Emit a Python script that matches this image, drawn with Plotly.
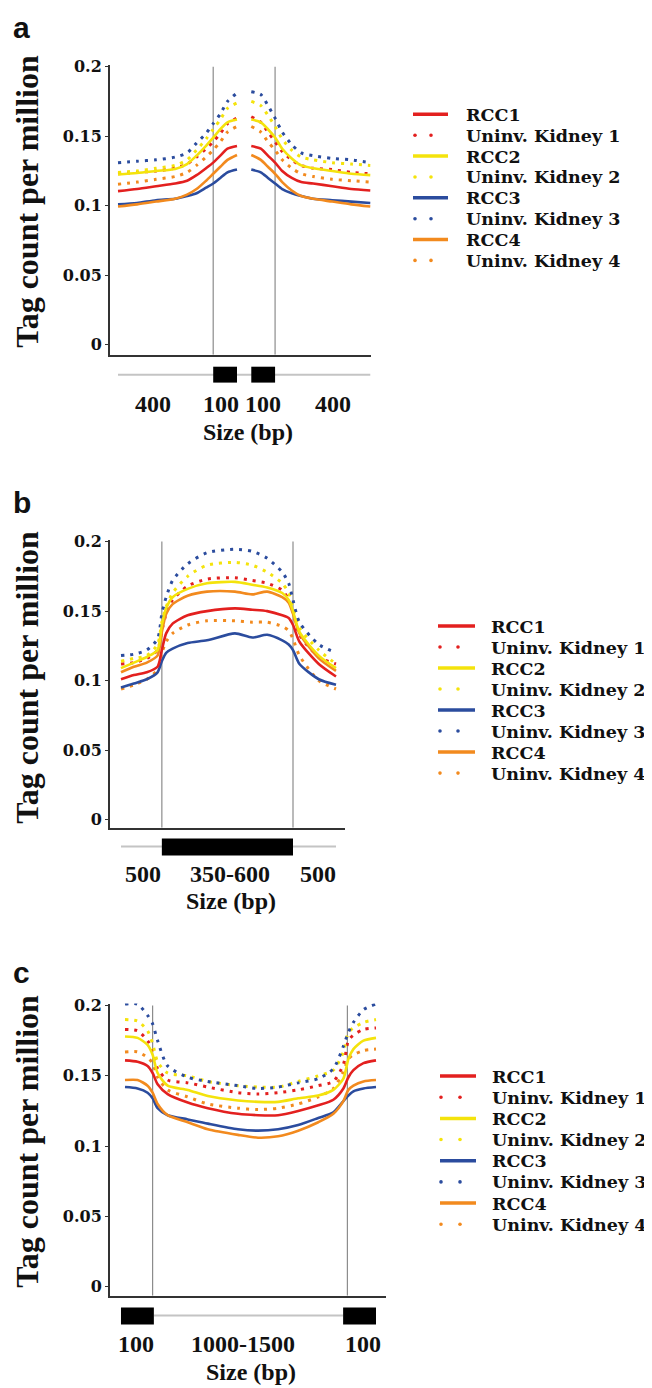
import plotly.graph_objects as go

W, H = 652, 1388

# ---------------- data ----------------
SERIES_NAMES = ["RCC1", "Uninv. Kidney 1", "RCC2", "Uninv. Kidney 2",
                "RCC3", "Uninv. Kidney 3", "RCC4", "Uninv. Kidney 4"]
Y_TICK_VALS = [0, 0.05, 0.1, 0.15, 0.2]
Y_TICK_TEXT = ["0", "0.05", "0.1", "0.15", "0.2"]

# Panel a: two flanked 100 bp regions (left half / right half, bp coordinates)
A_X_LEFT = [0, 80, 160, 240, 290, 330, 370, 400, 430, 460, 500]
A_X_RIGHT = [560, 600, 630, 660, 690, 730, 770, 820, 900, 980, 1060]
A_RCC1 = [0.1105, 0.112, 0.114, 0.116, 0.118, 0.122, 0.127, 0.131, 0.136, 0.141, 0.143,
          0.143, 0.141, 0.136, 0.131, 0.125, 0.120, 0.117, 0.116, 0.114, 0.112, 0.111]
A_K1 = [0.123, 0.124, 0.125, 0.127, 0.130, 0.135, 0.141, 0.146, 0.152, 0.159, 0.163,
        0.164, 0.160, 0.153, 0.146, 0.139, 0.133, 0.129, 0.127, 0.126, 0.124, 0.123]
A_RCC2 = [0.1225, 0.1235, 0.125, 0.1265, 0.130, 0.136, 0.143, 0.149, 0.155, 0.160, 0.162,
          0.162, 0.160, 0.155, 0.149, 0.141, 0.134, 0.129, 0.127, 0.125, 0.123, 0.122]
A_K2 = [0.124, 0.125, 0.127, 0.129, 0.133, 0.140, 0.148, 0.155, 0.162, 0.170, 0.174,
        0.175, 0.172, 0.165, 0.157, 0.148, 0.140, 0.135, 0.133, 0.131, 0.130, 0.129]
A_RCC3 = [0.101, 0.102, 0.104, 0.105, 0.107, 0.109, 0.113, 0.116, 0.120, 0.124, 0.126,
          0.126, 0.124, 0.120, 0.116, 0.112, 0.109, 0.107, 0.105, 0.104, 0.103, 0.102]
A_K3 = [0.131, 0.132, 0.133, 0.135, 0.138, 0.145, 0.152, 0.159, 0.166, 0.175, 0.181,
        0.182, 0.180, 0.172, 0.163, 0.153, 0.144, 0.138, 0.136, 0.134, 0.133, 0.131]
A_RCC4 = [0.0995, 0.101, 0.103, 0.105, 0.108, 0.112, 0.118, 0.123, 0.128, 0.133, 0.1365,
          0.1365, 0.133, 0.128, 0.123, 0.117, 0.111, 0.107, 0.105, 0.103, 0.101, 0.0995]
A_K4 = [0.1155, 0.117, 0.119, 0.121, 0.124, 0.129, 0.135, 0.140, 0.146, 0.153, 0.157,
        0.157, 0.153, 0.146, 0.140, 0.133, 0.127, 0.123, 0.121, 0.119, 0.118, 0.117]
A_BOUNDS = [400, 660]
A_BOXES = [(400, 500), (560, 660)]
A_LINE = (0, 1060)
A_LABEL_POS = [147, 433, 609, 903]
A_LABEL_TEXT = ["400", "100", "100", "400"]

# Panel b: 500 bp flanks around a 350-600 bp region (relative bins 0-100)
B_X = [0, 6, 12, 17, 19, 21, 24, 31, 40, 53, 61, 68, 75, 78, 80, 83, 92, 100]
B_RCC1 = [0.101, 0.104, 0.106, 0.110, 0.122, 0.134, 0.141, 0.147, 0.150, 0.152, 0.151,
          0.150, 0.147, 0.145, 0.140, 0.128, 0.112, 0.103]
B_K1 = [0.112, 0.113, 0.116, 0.122, 0.136, 0.148, 0.158, 0.168, 0.173, 0.174, 0.172,
        0.170, 0.165, 0.158, 0.150, 0.133, 0.117, 0.112]
B_RCC2 = [0.109, 0.113, 0.117, 0.122, 0.140, 0.152, 0.160, 0.166, 0.170, 0.171, 0.169,
          0.167, 0.163, 0.158, 0.150, 0.135, 0.118, 0.109]
B_K2 = [0.114, 0.116, 0.118, 0.126, 0.142, 0.153, 0.163, 0.175, 0.183, 0.185, 0.183,
        0.178, 0.170, 0.163, 0.152, 0.138, 0.122, 0.112]
B_RCC3 = [0.095, 0.098, 0.101, 0.106, 0.114, 0.120, 0.123, 0.127, 0.129, 0.134, 0.131,
          0.133, 0.129, 0.126, 0.122, 0.112, 0.101, 0.097]
B_K3 = [0.118, 0.119, 0.122, 0.130, 0.148, 0.160, 0.172, 0.184, 0.192, 0.1945, 0.193,
        0.188, 0.178, 0.170, 0.158, 0.142, 0.126, 0.120]
B_RCC4 = [0.106, 0.110, 0.113, 0.118, 0.135, 0.148, 0.155, 0.161, 0.164, 0.164, 0.162,
          0.164, 0.160, 0.156, 0.148, 0.134, 0.116, 0.107]
B_K4 = [0.094, 0.097, 0.101, 0.108, 0.120, 0.128, 0.134, 0.140, 0.143, 0.143, 0.142,
        0.142, 0.139, 0.136, 0.130, 0.118, 0.100, 0.094]
B_BOUNDS = [19, 80]
B_BOXES = [(19, 80)]
B_LINE = (0, 100)
B_LABEL_POS = [10.2, 50.9, 91.6]
B_LABEL_TEXT = ["500", "350-600", "500"]

# Panel c: 100 bp regions around a 1000-1500 bp region (relative bins 0-100)
C_X = [0, 5, 9, 11, 13, 17, 25, 33, 45, 53, 61, 69, 77, 83, 87, 89, 91, 95, 100]
C_RCC1 = [0.161, 0.160, 0.157, 0.152, 0.144, 0.137, 0.131, 0.127, 0.123, 0.122, 0.122,
          0.125, 0.129, 0.133, 0.141, 0.149, 0.154, 0.159, 0.161]
C_K1 = [0.183, 0.182, 0.175, 0.168, 0.155, 0.147, 0.145, 0.142, 0.138, 0.137, 0.138,
        0.140, 0.143, 0.146, 0.158, 0.175, 0.179, 0.183, 0.184]
C_RCC2 = [0.178, 0.177, 0.172, 0.165, 0.152, 0.143, 0.140, 0.1356, 0.1325, 0.1315, 0.1315,
          0.134, 0.136, 0.140, 0.148, 0.162, 0.169, 0.175, 0.177]
C_K2 = [0.190, 0.189, 0.182, 0.173, 0.160, 0.152, 0.150, 0.146, 0.143, 0.142, 0.142,
        0.146, 0.150, 0.154, 0.167, 0.181, 0.184, 0.188, 0.190]
C_RCC3 = [0.142, 0.141, 0.138, 0.134, 0.127, 0.122, 0.119, 0.116, 0.112, 0.111, 0.112,
          0.115, 0.120, 0.124, 0.132, 0.136, 0.139, 0.141, 0.142]
C_K3 = [0.201, 0.201, 0.193, 0.187, 0.175, 0.157, 0.149, 0.146, 0.143, 0.141, 0.142,
        0.145, 0.148, 0.155, 0.171, 0.181, 0.188, 0.197, 0.201]
C_RCC4 = [0.147, 0.147, 0.143, 0.138, 0.130, 0.122, 0.117, 0.112, 0.108, 0.106, 0.107,
          0.111, 0.117, 0.123, 0.132, 0.140, 0.143, 0.146, 0.147]
C_K4 = [0.167, 0.167, 0.163, 0.159, 0.149, 0.140, 0.135, 0.130, 0.127, 0.126, 0.127,
        0.130, 0.135, 0.141, 0.153, 0.162, 0.165, 0.168, 0.169]
C_BOUNDS = [11, 88.6]
C_BOXES = [(-1.6, 11.5), (86.9, 100)]
C_LINE = (11.5, 86.9)
C_LABEL_POS = [4.4, 47, 94.8]
C_LABEL_TEXT = ["100", "1000-1500", "100"]

# ---------------- styles ----------------
COLORS = ["#e3201f", "#e3201f", "#f4e30c", "#f4e30c",
          "#2b4c9e", "#2b4c9e", "#f28a1e", "#f28a1e"]
DOTTED = [False, True, False, True, False, True, False, True]
DRAW_ORDER = [1, 3, 5, 7, 4, 6, 0, 2]
SERIF = "Liberation Serif, Times New Roman, serif"
WIDE_SERIF = "DejaVu Serif, serif"
TICKFONT = dict(family=WIDE_SERIF, size=16, color="#111", weight="bold")
AXCOL = "#333333"


def py(p):
    return 1 - p / H


def pxf(p):
    return p / W


panels = [
    dict(key="", label="a", x0=110, k=0.238, xl=102, xr=363, zero=332, s=1400, bot=342, top=50,
         series=[A_RCC1, A_K1, A_RCC2, A_K2, A_RCC3, A_K3, A_RCC4, A_K4], split=True,
         bounds=A_BOUNDS, boxes=A_BOXES, line=A_LINE, bar_y=362, box_h=(354, 370),
         lab_pos=A_LABEL_POS, lab_text=A_LABEL_TEXT, lab_y=392, size_y=420, size_x=546,
         title_y=188, letter_y=13, leg_line=(405, 440), leg_dots=(407, 423), leg_text=456,
         leg_y0=100, leg_dy=21.0),
    dict(key="2", label="b", x0=113, k=2.15, xl=102, xr=337, zero=810, s=1400, bot=818, top=528,
         series=[B_RCC1, B_K1, B_RCC2, B_K2, B_RCC3, B_K3, B_RCC4, B_K4], split=False, xs=B_X,
         bounds=B_BOUNDS, boxes=B_BOXES, line=B_LINE, bar_y=837, box_h=(829, 846),
         lab_pos=B_LABEL_POS, lab_text=B_LABEL_TEXT, lab_y=865, size_y=892, size_x=51,
         title_y=667, letter_y=491, leg_line=(430, 467), leg_dots=(432, 450), leg_text=481,
         leg_y0=615, leg_dy=21.15),
    dict(key="3", label="c", x0=117, k=2.51, xl=102, xr=378, zero=1280, s=1415, bot=1289, top=995,
         series=[C_RCC1, C_K1, C_RCC2, C_K2, C_RCC3, C_K3, C_RCC4, C_K4], split=False, xs=C_X,
         bounds=C_BOUNDS, boxes=C_BOXES, line=C_LINE, bar_y=1309, box_h=(1301, 1318),
         lab_pos=C_LABEL_POS, lab_text=C_LABEL_TEXT, lab_y=1338, size_y=1366, size_x=50,
         title_y=1134, letter_y=964, leg_line=(432, 468), leg_dots=(433, 452), leg_text=482,
         leg_y0=1068, leg_dy=21.3),
]

fig = go.Figure()
shapes = []
annotations = []

for p in panels:
    xa = "x" + p["key"]
    ya = "y" + p["key"]
    xrange = [(p["xl"] - p["x0"]) / p["k"], (p["xr"] - p["x0"]) / p["k"]]
    yrange = [(p["zero"] - p["bot"]) / p["s"], (p["zero"] - p["top"]) / p["s"]]

    for i in DRAW_ORDER:
        vals = p["series"][i]
        if p["split"]:
            n = len(A_X_LEFT)
            xs = A_X_LEFT + [None] + A_X_RIGHT
            ys = vals[:n] + [None] + vals[n:]
        else:
            xs = p["xs"]
            ys = vals
        if DOTTED[i]:
            line = dict(color=COLORS[i], width=3, dash="3px,6px", shape="spline", smoothing=0.7)
        else:
            line = dict(color=COLORS[i], width=2.6, shape="spline", smoothing=0.7)
        fig.add_trace(go.Scatter(x=xs, y=ys, mode="lines", name=SERIES_NAMES[i], line=line,
                                 xaxis=xa, yaxis=ya, showlegend=False, connectgaps=False,
                                 hoverinfo="skip"))

    ax_x = dict(domain=[pxf(p["xl"]), pxf(p["xr"])], range=xrange, anchor=ya,
                showgrid=False, zeroline=False, showticklabels=False, ticks="",
                showline=True, linecolor=AXCOL, linewidth=2, fixedrange=True)
    ax_y = dict(domain=[py(p["bot"]), py(p["top"])], range=yrange, anchor=xa,
                showgrid=False, zeroline=False, tickvals=Y_TICK_VALS, ticktext=Y_TICK_TEXT,
                ticks="outside", ticklen=3, tickwidth=1, tickcolor=AXCOL, tickfont=TICKFONT,
                showline=True, linecolor=AXCOL, linewidth=2, fixedrange=True)
    fig.update_layout(**{"xaxis" + p["key"]: ax_x, "yaxis" + p["key"]: ax_y})

    # boundary lines
    for b in p["bounds"]:
        shapes.append(dict(type="line", xref=xa, yref=ya, x0=b, x1=b, y0=yrange[0], y1=0.2,
                           line=dict(color="#8c8c8c", width=1.2), layer="below"))
    # gene structure schematic
    shapes.append(dict(type="line", xref=xa, yref="paper", x0=p["line"][0], x1=p["line"][1],
                       y0=py(p["bar_y"]), y1=py(p["bar_y"]), line=dict(color="#c4c4c4", width=2)))
    for b0, b1 in p["boxes"]:
        shapes.append(dict(type="rect", xref=xa, yref="paper", x0=b0, x1=b1,
                           y0=py(p["box_h"][1]), y1=py(p["box_h"][0]),
                           fillcolor="#000000", line=dict(width=0)))
    for pos, txt in zip(p["lab_pos"], p["lab_text"]):
        annotations.append(dict(x=pos, y=py(p["lab_y"]), xref=xa, yref="paper", text=txt,
                                showarrow=False, xanchor="center", yanchor="middle",
                                font=dict(family=SERIF, size=24, color="#111", weight="bold")))
    annotations.append(dict(x=p["size_x"], y=py(p["size_y"]), xref=xa, yref="paper",
                            text="Size (bp)", showarrow=False, xanchor="center", yanchor="middle",
                            font=dict(family=SERIF, size=24, color="#111", weight="bold")))
    # y-axis title
    annotations.append(dict(x=pxf(19), y=py(p["title_y"]), xref="paper", yref="paper",
                            text="Tag count per million", textangle=-90, showarrow=False,
                            xanchor="center", yanchor="middle",
                            font=dict(family=SERIF, size=32, color="#111", weight="bold")))
    # panel letter
    annotations.append(dict(x=pxf(3), y=py(p["letter_y"]), xref="paper", yref="paper",
                            text=p["label"], showarrow=False, xanchor="left", yanchor="middle",
                            font=dict(family="Liberation Sans, Arial, sans-serif", size=30,
                                      color="#111", weight="bold")))
    # legend
    for i, name in enumerate(SERIES_NAMES):
        yy = p["leg_y0"] + i * p["leg_dy"]
        if DOTTED[i]:
            for dx in p["leg_dots"]:
                shapes.append(dict(type="circle", xref="paper", yref="paper",
                                   x0=pxf(dx - 1.8), x1=pxf(dx + 1.8),
                                   y0=py(yy + 1.8), y1=py(yy - 1.8),
                                   fillcolor=COLORS[i], line=dict(width=0)))
        else:
            shapes.append(dict(type="line", xref="paper", yref="paper",
                               x0=pxf(p["leg_line"][0]), x1=pxf(p["leg_line"][1]),
                               y0=py(yy), y1=py(yy), line=dict(color=COLORS[i], width=3.5)))
        annotations.append(dict(x=pxf(p["leg_text"]), y=py(yy + 0.5), xref="paper", yref="paper",
                                text=name, showarrow=False, xanchor="left", yanchor="middle",
                                font=dict(family=WIDE_SERIF, size=17.5, color="#111",
                                          weight="bold")))

fig.update_layout(width=W, height=H, margin=dict(l=0, r=0, t=0, b=0),
                  paper_bgcolor="white", plot_bgcolor="white", showlegend=False,
                  shapes=shapes, annotations=annotations)

fig.write_html("out.html")
